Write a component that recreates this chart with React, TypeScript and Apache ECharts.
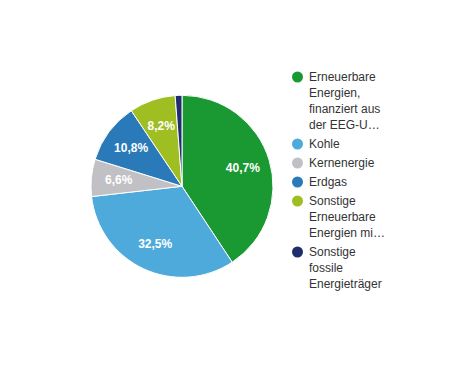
import React, { useEffect, useRef } from 'react';
import * as echarts from 'echarts';

const legendLines: string[][] = [
  ['Erneuerbare', 'Energien,', 'finanziert aus', 'der EEG-U…'],
  ['Kohle'],
  ['Kernenergie'],
  ['Erdgas'],
  ['Sonstige', 'Erneuerbare', 'Energien mi…'],
  ['Sonstige', 'fossile', 'Energieträger'],
];
const categories: string[] = legendLines.map((l) => l.join(' '));
const shares: number[] = [40.7, 32.5, 6.6, 10.8, 8.2, 1.2];
const colors: string[] = ['#1a9933', '#4eaadb', '#c1c1c5', '#2a7ab9', '#9fbe22', '#1f2c6e'];

const FONT = '"Liberation Sans", Arial, Helvetica, sans-serif';

export default function App() {
  const ref = useRef<HTMLDivElement>(null);

  useEffect(() => {
    if (!ref.current) return;
    const chart = echarts.init(ref.current, undefined, { renderer: 'svg' });

    const rich: Record<string, any> = {
      t: { fontSize: 12, height: 16, lineHeight: 16, color: '#333333', fontFamily: FONT, verticalAlign: 'middle' },
      g: { width: 6, height: 16, lineHeight: 16, verticalAlign: 'middle' },
      sp: { width: 17, height: 16, lineHeight: 16, verticalAlign: 'middle' },
    };
    colors.forEach((c, i) => {
      rich['d' + i] = {
        width: 11,
        height: 11,
        borderRadius: 5.5,
        backgroundColor: c,
        verticalAlign: 'middle',
      };
    });

    const data = categories.map((name, i) => ({
      name,
      value: shares[i],
      itemStyle: { color: colors[i] },
    }));

    const labelData = categories.map((name, i) => ({
      name,
      value: shares[i],
      label: { show: shares[i] >= 2 },
    }));

    chart.setOption({
      animation: false,
      color: colors,
      legend: {
        orient: 'vertical',
        left: 287,
        top: 69,
        padding: 0,
        itemGap: 3,
        itemWidth: 0,
        itemHeight: 11,
        icon: 'none',
        data: categories,
        formatter: (name: string) => {
          const i = categories.indexOf(name);
          const lines = legendLines[i];
          return lines
            .map((ln, k) => (k === 0 ? `{d${i}|}{g|}{t|${ln}}` : `{sp|}{t|${ln}}`))
            .join('\n');
        },
        textStyle: { fontSize: 12, lineHeight: 16, fontFamily: FONT, color: '#333333', rich },
      },
      series: [
        {
          type: 'pie',
          center: [182, 186.3],
          radius: [0, 91],
          startAngle: 90,
          clockwise: true,
          label: { show: false },
          labelLine: { show: false },
          itemStyle: { borderColor: '#ffffff', borderWidth: 1 },
          emphasis: { scale: false },
          data,
        },
        {
          type: 'pie',
          center: [182, 186.3],
          radius: [30, 91],
          startAngle: 90,
          clockwise: true,
          silent: true,
          itemStyle: { color: 'rgba(0,0,0,0)', borderWidth: 0 },
          label: {
            show: true,
            position: 'inside',
            color: '#ffffff',
            fontSize: 12,
            fontWeight: 'bold',
            fontFamily: FONT,
            formatter: (p: any) => p.value.toFixed(1).replace('.', ',') + '%',
          },
          labelLine: { show: false },
          emphasis: { disabled: true },
          data: labelData,
        },
      ],
    });

    return () => chart.dispose();
  }, []);

  return (
    <div
      ref={ref}
      style={{ position: 'fixed', left: 0, top: 0, width: 476, height: 371, background: '#ffffff' }}
    />
  );
}
